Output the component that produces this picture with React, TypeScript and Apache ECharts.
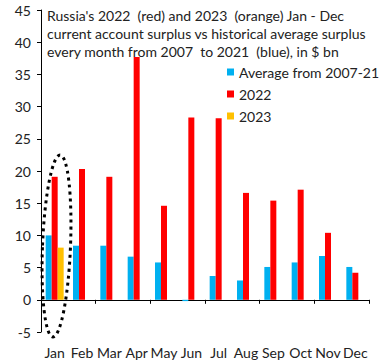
import React, { useEffect, useRef } from "react";
import * as echarts from "echarts";

const months = ["Jan", "Feb", "Mar", "Apr", "May", "Jun", "Jul", "Aug", "Sep", "Oct", "Nov", "Dec"];
const avg0721 = [10.0, 8.4, 8.4, 6.7, 5.8, -0.2, 3.7, 3.0, 5.1, 5.8, 6.8, 5.1];
const y2022 = [19.1, 20.3, 19.1, 37.7, 14.6, 28.3, 28.2, 16.6, 15.4, 17.1, 10.4, 4.2];
const y2023: (number | null)[] = [8.1, null, null, null, null, null, null, null, null, null, null, null];

const titleText =
  "Russia's 2022  (red) and 2023  (orange) Jan - Dec\ncurrent account surplus vs historical average surplus\nevery month from 2007  to 2021  (blue), in $ bn";

const FONT = "Lato";

export default function App() {
  const ref = useRef<HTMLDivElement>(null);
  useEffect(() => {
    if (!ref.current) return;
    const chart = echarts.init(ref.current, undefined, { renderer: "svg" });
    chart.setOption({
      animation: false,
      backgroundColor: "#fff",
      textStyle: { fontFamily: FONT },
      title: {
        text: titleText,
        left: 47,
        top: 6,
        padding: 0,
        textStyle: { fontFamily: FONT, fontSize: 14, fontWeight: "normal", color: "#222", lineHeight: 18 },
      },
      legend: {
        orient: "vertical",
        left: 227,
        top: 65,
        padding: 0,
        itemWidth: 7,
        itemHeight: 7,
        itemGap: 8,
        icon: "rect",
        textStyle: { fontFamily: FONT, fontSize: 14, color: "#222", lineHeight: 14 },
        data: ["Average from 2007-21", "2022", "2023"],
      },
      grid: { left: 41, right: 14, top: 10, bottom: 30, containLabel: false },
      xAxis: [
        {
          type: "category",
          data: months,
          axisLine: { onZero: true, lineStyle: { color: "#000", width: 1 } },
          axisTick: { show: true, length: 4, inside: false, lineStyle: { color: "#000" } },
          axisLabel: { show: false },
        },
        {
          type: "category",
          data: months,
          position: "bottom",
          axisLine: { show: false, onZero: false },
          axisTick: { show: false },
          axisLabel: { show: true, margin: 13, fontFamily: FONT, fontSize: 14, color: "#222", interval: 0 },
        },
      ],
      yAxis: {
        type: "value",
        min: -5,
        max: 45,
        interval: 5,
        splitLine: { show: false },
        axisLine: { show: true, lineStyle: { color: "#000", width: 1 } },
        axisTick: { show: true, length: 4, lineStyle: { color: "#000" } },
        axisLabel: { margin: 10, fontFamily: FONT, fontSize: 14, color: "#222" },
      },
      series: [
        {
          name: "Average from 2007-21",
          type: "bar",
          xAxisIndex: 0,
          data: avg0721,
          barWidth: 6,
          barGap: "0%",
          itemStyle: { color: "#00B0F0" },
        },
        {
          name: "2022",
          type: "bar",
          xAxisIndex: 0,
          data: y2022,
          barWidth: 6,
          barGap: "0%",
          itemStyle: { color: "#FF0000" },
        },
        {
          name: "2023",
          type: "bar",
          xAxisIndex: 0,
          data: y2023,
          barWidth: 6,
          barGap: "0%",
          itemStyle: { color: "#FFC000" },
        },
      ],
      graphic: [
        {
          type: "ellipse",
          shape: { cx: 0, cy: 0, rx: 14, ry: 91 },
          x: 56.5,
          y: 246,
          rotation: -0.04,
          z: 100,
          style: { fill: "none", stroke: "#000", lineWidth: 3, lineDash: [3, 4] },
        },
      ],
    });
    return () => chart.dispose();
  }, []);
  return <div ref={ref} style={{ position: "absolute", left: 0, top: 0, width: 383, height: 362 }} />;
}
